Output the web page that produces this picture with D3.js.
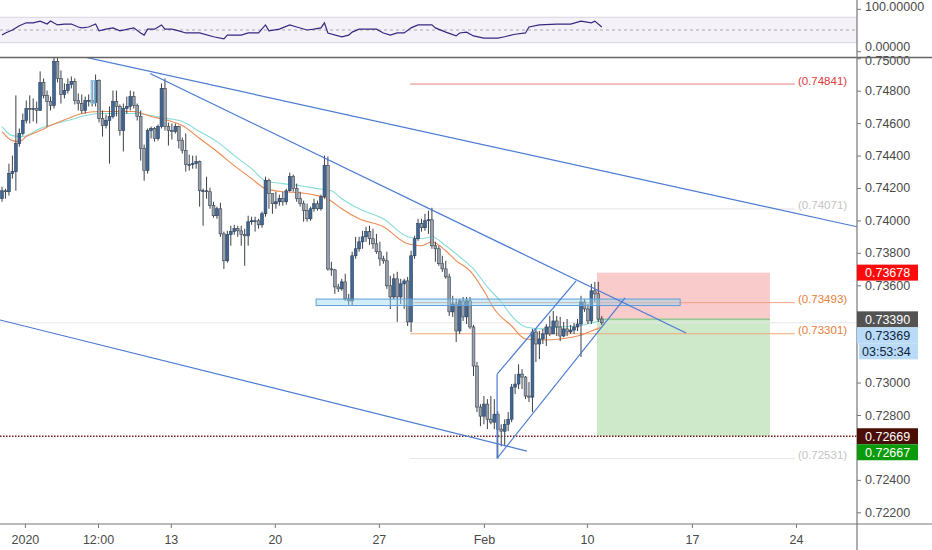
<!DOCTYPE html>
<html lang="en">
<head>
  <meta charset="UTF-8">
  <title>4h chart</title>
  <script src="https://d3js.org/d3.v7.min.js"></script>
  <style>
    body { margin: 0; background: #fff; }
    text { font-family: "Liberation Sans", Arial, sans-serif; }
  </style>
</head>
<body>
<div id="chart"></div>
<script>
  // candles: open of bar i is the close of bar i-1
  const firstOpen = 0.74134;
  const closes = [
    0.74183, 0.74177, 0.74289, 0.74301, 0.74474, 0.74536, 0.74616, 0.74690, 0.74684, 0.74690,
    0.74678, 0.74851, 0.74771, 0.74733, 0.74709, 0.74981, 0.74876, 0.74777, 0.74801, 0.74839,
    0.74857, 0.74740, 0.74721, 0.74678, 0.74740, 0.74740, 0.74727, 0.74863, 0.74628, 0.74585,
    0.74616, 0.74641, 0.74733, 0.74703, 0.74554, 0.74690, 0.74703, 0.74764, 0.74709, 0.74641,
    0.74443, 0.74307, 0.74554, 0.74567, 0.74505, 0.74579, 0.74814, 0.74579, 0.74554, 0.74548,
    0.74579, 0.74492, 0.74431, 0.74344, 0.74344, 0.74350, 0.74363, 0.74183, 0.74183, 0.74177,
    0.74091, 0.74029, 0.74072, 0.73917, 0.73751, 0.73912, 0.73931, 0.73949, 0.73936, 0.73912,
    0.73905, 0.73992, 0.73998, 0.73998, 0.73973, 0.74041, 0.74245, 0.74165, 0.74103, 0.74115,
    0.74134, 0.74115, 0.74183, 0.74270, 0.74196, 0.74134, 0.74103, 0.74060, 0.74010, 0.74072,
    0.74103, 0.74072, 0.74146, 0.74338, 0.73701, 0.73695, 0.73590, 0.73578, 0.73621, 0.73516,
    0.73504, 0.73782, 0.73825, 0.73868, 0.73899, 0.73931, 0.73887, 0.73856, 0.73807, 0.73763,
    0.73751, 0.73597, 0.73528, 0.73640, 0.73528, 0.73609, 0.73627, 0.73374, 0.73782, 0.73887,
    0.73980, 0.73955, 0.73998, 0.74004, 0.73844, 0.73825, 0.73733, 0.73701, 0.73652, 0.73436,
    0.73485, 0.73318, 0.73504, 0.73405, 0.73504, 0.73343, 0.73102, 0.72849, 0.72793, 0.72867,
    0.72774, 0.72756, 0.72805, 0.72713, 0.72700, 0.72743, 0.72774, 0.72972, 0.72991, 0.73052,
    0.73034, 0.72917, 0.72910, 0.73312, 0.73238, 0.73269, 0.73300, 0.73343, 0.73300, 0.73380,
    0.73343, 0.73287, 0.73331, 0.73312, 0.73324, 0.73343, 0.73361, 0.73497, 0.73454, 0.73380,
    0.73566, 0.73547, 0.73392, 0.73369
  ];
  const highs = [
    0.74208, 0.74196, 0.74350, 0.74400, 0.74771, 0.74567, 0.74659, 0.74740, 0.74771, 0.74752,
    0.74733, 0.74919, 0.74876, 0.74801, 0.74764, 0.75018, 0.75024, 0.74925, 0.74845, 0.74876,
    0.74888, 0.74876, 0.74783, 0.74777, 0.74764, 0.74777, 0.74863, 0.74900, 0.74870, 0.74678,
    0.74653, 0.74703, 0.74801, 0.74801, 0.74715, 0.74721, 0.74764, 0.74801, 0.74795, 0.74721,
    0.74678, 0.74468, 0.74567, 0.74579, 0.74575, 0.74591, 0.74845, 0.74876, 0.74604, 0.74598,
    0.74598, 0.74585, 0.74511, 0.74536, 0.74406, 0.74400, 0.74400, 0.74369, 0.74196, 0.74270,
    0.74202, 0.74115, 0.74085, 0.74109, 0.73931, 0.73936, 0.73967, 0.73973, 0.73967, 0.73967,
    0.73949, 0.74029, 0.74023, 0.74023, 0.74010, 0.74054, 0.74270, 0.74258, 0.74165, 0.74177,
    0.74159, 0.74177, 0.74196, 0.74295, 0.74283, 0.74227, 0.74177, 0.74122, 0.74103, 0.74085,
    0.74134, 0.74122, 0.74159, 0.74400, 0.74394, 0.73745, 0.73701, 0.73609, 0.73640, 0.73671,
    0.73547, 0.73807, 0.73899, 0.73899, 0.73936, 0.73961, 0.73967, 0.73949, 0.73917, 0.73868,
    0.73782, 0.73807, 0.73659, 0.73671, 0.73683, 0.73640, 0.73640, 0.73652, 0.73813, 0.73905,
    0.74010, 0.74010, 0.74041, 0.74060, 0.74078, 0.73868, 0.73844, 0.73782, 0.73751, 0.73671,
    0.73535, 0.73516, 0.73516, 0.73528, 0.73528, 0.73528, 0.73355, 0.73127, 0.72867, 0.72917,
    0.72898, 0.72917, 0.72898, 0.72824, 0.72743, 0.72774, 0.72818, 0.72991, 0.73052, 0.73113,
    0.73083, 0.73040, 0.73003, 0.73331, 0.73331, 0.73318, 0.73331, 0.73361, 0.73411, 0.73442,
    0.73411, 0.73405, 0.73374, 0.73392, 0.73355, 0.73368, 0.73392, 0.73535, 0.73516, 0.73485,
    0.73609, 0.73621, 0.73621, 0.73411
  ];
  const lows = [
    0.74115, 0.74134, 0.74153, 0.74258, 0.74183, 0.74455, 0.74523, 0.74598, 0.74598, 0.74610,
    0.74598, 0.74678, 0.74752, 0.74579, 0.74678, 0.74690, 0.74851, 0.74721, 0.74752, 0.74783,
    0.74814, 0.74715, 0.74678, 0.74659, 0.74659, 0.74703, 0.74703, 0.74703, 0.74604, 0.74517,
    0.74567, 0.74350, 0.74628, 0.74641, 0.74523, 0.74425, 0.74659, 0.74678, 0.74690, 0.74616,
    0.74369, 0.74245, 0.74289, 0.74505, 0.74486, 0.74492, 0.74567, 0.74554, 0.74462, 0.74499,
    0.74536, 0.74443, 0.74412, 0.74301, 0.74307, 0.74319, 0.74319, 0.74085, 0.73967, 0.74134,
    0.74072, 0.74017, 0.74010, 0.73899, 0.73701, 0.73739, 0.73844, 0.73912, 0.73899, 0.73844,
    0.73720, 0.73844, 0.73973, 0.73931, 0.73949, 0.73955, 0.74023, 0.74072, 0.74041, 0.74072,
    0.74091, 0.74091, 0.74097, 0.74177, 0.74177, 0.74115, 0.74085, 0.73992, 0.73992, 0.73998,
    0.74054, 0.74060, 0.74060, 0.74134, 0.73689, 0.73659, 0.73547, 0.73559, 0.73566, 0.73504,
    0.73479, 0.73473, 0.73763, 0.73807, 0.73825, 0.73868, 0.73850, 0.73825, 0.73794, 0.73720,
    0.73733, 0.73578, 0.73454, 0.73516, 0.73374, 0.73485, 0.73454, 0.73349, 0.73312, 0.73763,
    0.73874, 0.73931, 0.73936, 0.73917, 0.73825, 0.73745, 0.73720, 0.73683, 0.73640, 0.73411,
    0.73405, 0.73250, 0.73300, 0.73380, 0.73361, 0.73331, 0.73040, 0.72818, 0.72731, 0.72743,
    0.72713, 0.72743, 0.72713, 0.72531, 0.72607, 0.72607, 0.72700, 0.72756, 0.72929, 0.72960,
    0.72960, 0.72898, 0.72880, 0.72818, 0.73127, 0.73145, 0.73238, 0.73225, 0.73287, 0.73300,
    0.73287, 0.73256, 0.73280, 0.73287, 0.73300, 0.73300, 0.73318, 0.73158, 0.73436, 0.73361,
    0.73361, 0.73497, 0.73374, 0.73355
  ];

  // moving averages (bar index, price)
  const fastIdx = [0, 3, 5, 7, 11, 14, 19, 23, 28, 38, 43, 48, 52, 57, 62, 67, 72, 76, 81, 86,
    91, 94, 96, 98, 103, 110, 117, 121, 124, 128, 131, 135, 139, 142, 147, 151, 156, 161, 166, 170, 173];
  const fastMa = [0.74548, 0.74492, 0.74486, 0.74517, 0.74554, 0.74585, 0.74628, 0.74659, 0.74672, 0.74672,
    0.74641, 0.74616, 0.74585, 0.74505, 0.74425, 0.74338, 0.74258, 0.74196, 0.74177, 0.74171,
    0.74153, 0.74134, 0.74103, 0.74072, 0.74010, 0.73961, 0.73856, 0.73844, 0.73868, 0.73813,
    0.73751, 0.73689, 0.73566, 0.73454, 0.73349, 0.73269, 0.73263, 0.73269, 0.73287, 0.73318, 0.73343];
  const slowIdx = [0, 3, 6, 11, 19, 28, 38, 43, 48, 52, 57, 62, 67, 72, 76, 81, 86, 91, 95, 98,
    103, 110, 117, 121, 124, 128, 132, 136, 140, 144, 147, 151, 156, 161, 166, 170, 173];
  const slowMa = [0.74579, 0.74523, 0.74517, 0.74567, 0.74616, 0.74659, 0.74659, 0.74647, 0.74628, 0.74610,
    0.74548, 0.74486, 0.74400, 0.74319, 0.74245, 0.74227, 0.74214, 0.74196, 0.74183, 0.74134,
    0.74072, 0.74010, 0.73899, 0.73887, 0.73899, 0.73844, 0.73776, 0.73701, 0.73590, 0.73497,
    0.73411, 0.73343, 0.73331, 0.73343, 0.73349, 0.73368, 0.73380];

  // oscillator pane
  const rsiIdx = [0, 1, 3, 5, 7, 9, 11, 13, 14, 16, 18, 20, 22, 23, 25, 27, 28, 30, 32, 34,
    38, 40, 41, 42, 44, 46, 47, 49, 51, 53, 57, 61, 64, 65, 69, 71, 74, 76, 77, 80,
    83, 85, 88, 90, 92, 93, 94, 98, 100, 101, 103, 108, 110, 112, 114, 116, 118, 120, 124, 125,
    128, 131, 132, 134, 136, 139, 143, 145, 148, 151, 152, 155, 160, 164, 167, 170, 171, 173];
  const rsiVal = [38, 43, 50, 60, 67, 67, 71, 64, 71, 62, 64, 64, 57, 55, 57, 64, 48, 52, 55, 48,
    55, 43, 38, 52, 52, 62, 52, 52, 48, 43, 43, 34, 29, 38, 38, 43, 43, 62, 48, 52,
    62, 57, 50, 52, 55, 67, 43, 34, 38, 45, 52, 52, 43, 38, 43, 43, 55, 62, 62, 55,
    45, 36, 43, 45, 36, 31, 31, 34, 40, 43, 57, 62, 64, 64, 71, 67, 71, 57];

  // axes
  const priceTicks = [0.750, 0.748, 0.746, 0.744, 0.742, 0.740, 0.738, 0.736, 0.734, 0.732,
    0.730, 0.728, 0.726, 0.724, 0.722];
  const rsiTicks = [100, 0];
  const xTickPos = [6.6, 27.7, 48.7, 78.7, 108.7, 139, 168.7, 199, 229];
  const xTickLabels = ["2020", "12:00", "13", "20", "27", "Feb", "10", "17", "24"];

  // drawings (bar index, price)
  const trendLines = [
    [[21.6, 0.75018], [246.6, 0.73961]],
    [[42.7, 0.74906], [197.3, 0.73306]],
    [[-0.6, 0.73386], [151.4, 0.72577]],
    [[142.8, 0.73052], [165.6, 0.73627]],
    [[142.8, 0.72533], [179.7, 0.73522]],
    [[142.8, 0.73052], [142.8, 0.72533]]
  ];
  const levels = [0.74841, 0.74071, 0.73493, 0.73301, 0.72531];
  const levelSpan = [117.7, 228.7];
  const zone = { from: 90.6, to: 195.6, top: 0.73515, bottom: 0.73475 };
  const marked = { from: 25.7, to: 26.8, top: 0.74863, bottom: 0.74721 };
  const trade = { from: 171.6, to: 221.5, entry: 0.73390, stop: 0.73678, target: 0.72669 };
  const lastPrice = 0.73369;
  const bidPrice = 0.72667;
  const countdown = "03:53:34";

  const width = 932, height = 550;
  const axisX = 857, sepY = 57.5, mainTop = 58, mainBottom = 524;

  const x = d3.scaleLinear().domain([0, 246]).range([2, 2 + 246 * 3.467]);
  const y = d3.scaleLinear().domain([0.748, 0.722]).range([90.7, 512.3]);
  const yR = d3.scaleLinear().domain([100, 0]).range([8.8, 51.2]);
  const fmt = d3.format(".5f");

  const svg = d3.select("#chart").append("svg")
    .attr("width", width).attr("height", height);

  const defs = svg.append("defs");
  defs.append("clipPath").attr("id", "clipMain").append("rect")
    .attr("x", 0).attr("y", mainTop).attr("width", axisX).attr("height", mainBottom - mainTop);
  defs.append("clipPath").attr("id", "clipRsi").append("rect")
    .attr("x", 0).attr("y", 0).attr("width", axisX).attr("height", sepY);

  // oscillator pane
  const rsiG = svg.append("g").attr("clip-path", "url(#clipRsi)");
  rsiG.append("rect")
    .attr("x", 0).attr("width", axisX)
    .attr("y", yR(80)).attr("height", yR(20) - yR(80))
    .attr("fill", "#f4f1f9");
  [80, 20].forEach(v => rsiG.append("line")
    .attr("x1", 0).attr("x2", axisX).attr("y1", yR(v)).attr("y2", yR(v))
    .attr("stroke", "#d8d5e0").attr("stroke-width", 1));
  rsiG.append("line")
    .attr("x1", 0).attr("x2", axisX).attr("y1", yR(50)).attr("y2", yR(50))
    .attr("stroke", "#a8a8b0").attr("stroke-dasharray", "3,3");
  rsiG.append("path")
    .datum(rsiIdx.map((d, i) => [d, rsiVal[i]]))
    .attr("fill", "none").attr("stroke", "#35297f").attr("stroke-width", 1.2)
    .attr("d", d3.line().x(d => x(d[0])).y(d => yR(d[1])));

  const main = svg.append("g").attr("clip-path", "url(#clipMain)");

  // trade box
  main.append("rect")
    .attr("x", x(trade.from)).attr("width", x(trade.to) - x(trade.from))
    .attr("y", y(trade.stop)).attr("height", y(trade.entry) - y(trade.stop))
    .attr("fill", "#f9cbcb");
  main.append("rect")
    .attr("x", x(trade.from)).attr("width", x(trade.to) - x(trade.from))
    .attr("y", y(trade.entry)).attr("height", y(trade.target) - y(trade.entry))
    .attr("fill", "#cde9c9");
  main.append("line")
    .attr("x1", x(trade.from)).attr("x2", x(trade.to))
    .attr("y1", y(trade.entry)).attr("y2", y(trade.entry))
    .attr("stroke", "#93c993").attr("stroke-width", 1.5);

  // horizontal levels
  const levelStroke = ["#e88080", "#e4e4e4", "#f0a080", "#f0a878", "#e4e4e4"];
  const levelText = ["#e0393e", "#c4c4c4", "#e8803a", "#e8803a", "#c4c4c4"];
  levels.forEach((v, i) => {
    main.append("line")
      .attr("x1", x(levelSpan[0])).attr("x2", x(levelSpan[1]))
      .attr("y1", y(v)).attr("y2", y(v))
      .attr("stroke", levelStroke[i]).attr("stroke-width", 1);
  });

  // last price line and dotted bid line
  main.append("line")
    .attr("x1", 0).attr("x2", axisX).attr("y1", y(lastPrice)).attr("y2", y(lastPrice))
    .attr("stroke", "#e8e8e8");
  main.append("line")
    .attr("x1", 0).attr("x2", axisX).attr("y1", y(trade.target)).attr("y2", y(trade.target))
    .attr("stroke", "#7a1d1d").attr("stroke-width", 1.3).attr("stroke-dasharray", "1.5,1.5");

  // moving averages
  const maLine = d3.line().x(d => x(d[0])).y(d => y(d[1])).curve(d3.curveMonotoneX);
  main.append("path")
    .datum(slowIdx.map((d, i) => [d, slowMa[i]]))
    .attr("fill", "none").attr("stroke", "#86dcd6").attr("stroke-width", 1.1)
    .attr("d", maLine);
  main.append("path")
    .datum(fastIdx.map((d, i) => [d, fastMa[i]]))
    .attr("fill", "none").attr("stroke", "#ee8a52").attr("stroke-width", 1.1)
    .attr("d", maLine);

  // candles
  const bars = closes.map((c, i) => {
    const o = i === 0 ? firstOpen : closes[i - 1];
    return { i, o, c, h: Math.max(highs[i], o, c), l: Math.min(lows[i], o, c) };
  });
  const cg = main.append("g");
  cg.selectAll("line.wick").data(bars).enter().append("line")
    .attr("class", "wick")
    .attr("x1", d => x(d.i)).attr("x2", d => x(d.i))
    .attr("y1", d => y(d.h)).attr("y2", d => y(d.l))
    .attr("stroke", "#3b4048").attr("stroke-width", 1);
  cg.selectAll("rect.body").data(bars).enter().append("rect")
    .attr("class", "body")
    .attr("x", d => x(d.i) - 1.4).attr("width", 2.8)
    .attr("y", d => y(Math.max(d.o, d.c)))
    .attr("height", d => Math.max(0.8, Math.abs(y(d.o) - y(d.c))))
    .attr("fill", d => d.c >= d.o ? "#3f6899" : "#97a1ad")
    .attr("stroke", d => d.c >= d.o ? "#2b3d55" : "#3c434c")
    .attr("stroke-width", 0.6);

  // zone rectangle and marked candle
  main.append("rect")
    .attr("x", x(zone.from)).attr("width", x(zone.to) - x(zone.from))
    .attr("y", y(zone.top)).attr("height", y(zone.bottom) - y(zone.top))
    .attr("fill", "rgba(150,215,240,0.45)").attr("stroke", "#5d9fd8").attr("stroke-width", 1);
  main.append("rect")
    .attr("x", x(marked.from)).attr("width", x(marked.to) - x(marked.from))
    .attr("y", y(marked.top)).attr("height", y(marked.bottom) - y(marked.top))
    .attr("fill", "rgba(170,220,245,0.35)").attr("stroke", "#8cc6ea").attr("stroke-width", 1);

  // trend lines
  main.selectAll("line.trend").data(trendLines).enter().append("line")
    .attr("class", "trend")
    .attr("x1", d => x(d[0][0])).attr("y1", d => y(d[0][1]))
    .attr("x2", d => x(d[1][0])).attr("y2", d => y(d[1][1]))
    .attr("stroke", "#4b7bd2").attr("stroke-width", 1.2);

  // level labels
  levels.forEach((v, i) => {
    svg.append("text")
      .attr("x", x(levelSpan[1]) + 3).attr("y", y(v) + 0.5)
      .attr("font-size", 11.5).attr("fill", levelText[i])
      .text("(" + fmt(v) + ")");
  });

  // price tags on the axis, stacked so they do not overlap
  const tags = [
    { v: trade.stop, text: fmt(trade.stop), bg: "#ff0a0a", fg: "#fff" },
    { v: trade.entry, text: fmt(trade.entry), bg: "#535353", fg: "#fff" },
    { v: lastPrice, text: fmt(lastPrice), bg: "#b9dbf7", fg: "#10243c" },
    { v: lastPrice, text: countdown, bg: "#b9dbf7", fg: "#10243c", inset: 2 },
    { v: trade.target, text: fmt(trade.target), bg: "#4a0e06", fg: "#fff" },
    { v: bidPrice, text: fmt(bidPrice), bg: "#0a9a0a", fg: "#fff" }
  ];
  const tagH = 16;
  let prev = -Infinity;
  tags.forEach(t => {
    t.cy = Math.max(y(t.v), prev + tagH);
    prev = t.cy;
  });

  // axis labels that a tag covers are left out, as on the chart
  const shownTicks = priceTicks.filter(p => tags.every(t => Math.abs(t.cy - y(p)) > tagH / 2 + 2));

  const yAxis = svg.append("g").attr("transform", `translate(${axisX},0)`)
    .call(d3.axisRight(y).tickValues(shownTicks).tickFormat(fmt).tickSize(4).tickPadding(4));
  const rAxis = svg.append("g").attr("transform", `translate(${axisX},0)`)
    .call(d3.axisRight(yR).tickValues(rsiTicks).tickFormat(fmt).tickSize(4).tickPadding(4));
  const xAxis = svg.append("g").attr("transform", `translate(0,${mainBottom})`)
    .call(d3.axisBottom(x).tickValues(xTickPos).tickFormat((d, i) => xTickLabels[i])
      .tickSize(4).tickPadding(7));
  [yAxis, rAxis, xAxis].forEach(g => {
    g.select(".domain").remove();
    g.selectAll(".tick line").attr("stroke", "#777");
    g.selectAll(".tick text").attr("fill", "#4a4a4a").attr("font-size", 12.5)
      .attr("font-family", "Liberation Sans, Arial, sans-serif");
  });
  // the two labels at the pane border sit close together: nudge them apart
  rAxis.selectAll(".tick text").attr("dy", d => d === 0 ? "-0.05em" : "0.15em");
  yAxis.selectAll(".tick text").filter(d => d === 0.750).attr("dy", "0.5em");

  svg.append("line").attr("x1", 0).attr("x2", width).attr("y1", sepY).attr("y2", sepY)
    .attr("stroke", "#666").attr("stroke-width", 1.5);
  svg.append("line").attr("x1", 0).attr("x2", width).attr("y1", mainBottom).attr("y2", mainBottom)
    .attr("stroke", "#777").attr("stroke-width", 1.2);
  svg.append("line").attr("x1", axisX).attr("x2", axisX).attr("y1", 0).attr("y2", height)
    .attr("stroke", "#777").attr("stroke-width", 1.2);

  tags.forEach(t => {
    const x0 = axisX + (t.inset || 0);
    svg.append("rect")
      .attr("x", x0).attr("y", t.cy - tagH / 2)
      .attr("width", 918 - x0).attr("height", tagH)
      .attr("fill", t.bg);
    svg.append("text")
      .attr("x", t.inset ? x0 + 3 : axisX + 8).attr("y", t.cy).attr("dy", "0.35em")
      .attr("font-size", 12.5).attr("fill", t.fg)
      .text(t.text);
  });
</script>
</body>
</html>
